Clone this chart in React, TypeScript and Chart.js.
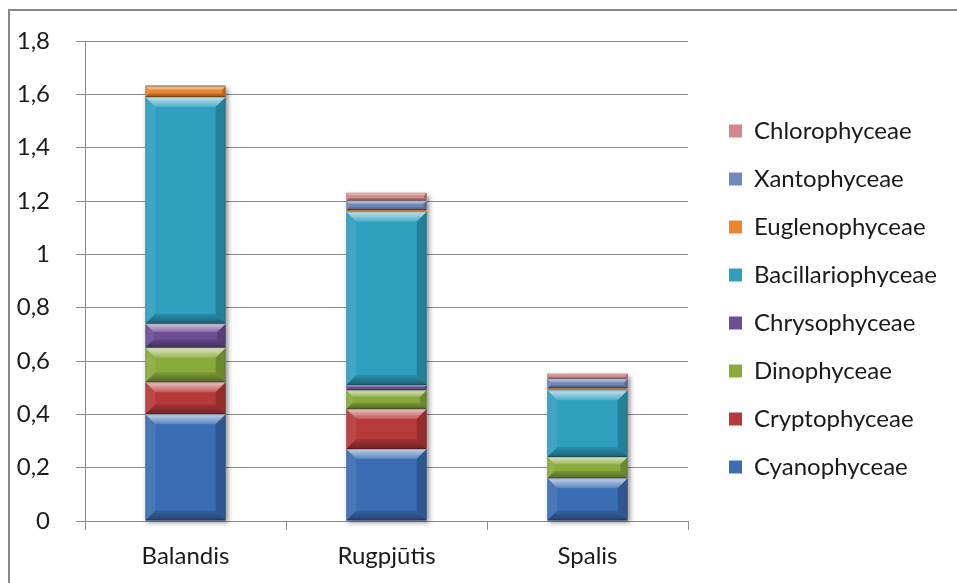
import { useEffect, useRef } from 'react';
import { Chart, registerables } from 'chart.js';

Chart.register(...registerables);

const categories = ['Balandis', 'Rugpjūtis', 'Spalis'];
const cyanophyceae = [0.40, 0.27, 0.16];
const cryptophyceae = [0.12, 0.15, 0];
const dinophyceae = [0.13, 0.07, 0.08];
const chrysophyceae = [0.09, 0.02, 0];
const bacillariophyceae = [0.85, 0.65, 0.25];
const euglenophyceae = [0.04, 0.006, 0.008];
const xantophyceae = [0, 0.035, 0.035];
const chlorophyceae = [0.003, 0.03, 0.02];
const yTickLabels = ['0', '0,2', '0,4', '0,6', '0,8', '1', '1,2', '1,4', '1,6', '1,8'];

const seriesNames = ['Cyanophyceae', 'Cryptophyceae', 'Dinophyceae', 'Chrysophyceae', 'Bacillariophyceae', 'Euglenophyceae', 'Xantophyceae', 'Chlorophyceae'];
const seriesValues = [cyanophyceae, cryptophyceae, dinophyceae, chrysophyceae, bacillariophyceae, euglenophyceae, xantophyceae, chlorophyceae];
const seriesColors = ['#3A6DB3', '#B8393A', '#89AB3C', '#6D4E95', '#2E9FBF', '#E8852D', '#7189BA', '#D58887'];

const FONT = 'Lato, "Liberation Sans", sans-serif';
const FS = 24;
const LEGEND_PAD = 24;

const legendPlacePlugin = {
  id: 'legendPlace',
  beforeLayout(chart: any) {
    const lg = chart.legend;
    if (lg && !lg._patched) {
      const orig = lg.fit.bind(lg);
      lg.fit = function () {
        orig();
        this.width = 957 - 688;
      };
      lg._patched = true;
    }
  },
  afterLayout(chart: any) {
    const lg = chart.legend;
    if (!lg) return;
    lg.left = 729 - LEGEND_PAD;
    lg.right = 957;
    lg.top -= 13;
    lg.bottom -= 13;
  },
};

const bevelPlugin = {
  id: 'bevel',
  beforeDatasetsDraw(chart: any) {
    const ctx = chart.ctx;
    const metas = chart.getSortedVisibleDatasetMetas();
    if (!metas.length) return;
    const n = metas[0].data.length;
    for (let i = 0; i < n; i++) {
      let top = Infinity;
      let bottom = -Infinity;
      let x = 0;
      let w = 0;
      metas.forEach((m: any) => {
        const el = m.data[i];
        if (!el) return;
        const p = el.getProps(['x', 'y', 'base', 'width'], true);
        top = Math.min(top, p.y, p.base);
        bottom = Math.max(bottom, p.y, p.base);
        x = p.x;
        w = p.width;
      });
      ctx.save();
      ctx.shadowColor = 'rgba(0,0,0,0.45)';
      ctx.shadowBlur = 5;
      ctx.shadowOffsetX = 2;
      ctx.shadowOffsetY = 2;
      ctx.fillStyle = '#ffffff';
      ctx.fillRect(x - w / 2, top, w, bottom - top);
      ctx.restore();
    }
  },
  afterDatasetsDraw(chart: any) {
    const ctx = chart.ctx;
    chart.getSortedVisibleDatasetMetas().forEach((m: any) => {
      m.data.forEach((el: any) => {
        const p = el.getProps(['x', 'y', 'base', 'width'], true);
        const l = p.x - p.width / 2;
        const r = p.x + p.width / 2;
        const t = Math.min(p.y, p.base);
        const b = Math.max(p.y, p.base);
        const h = b - t;
        if (h < 0.5) return;
        const s = Math.min(10, h * 0.35, p.width * 0.25);
        ctx.save();
        if (s >= 1) {
          let g = ctx.createLinearGradient(0, t, 0, t + s);
          g.addColorStop(0, 'rgba(255,255,255,0.7)');
          g.addColorStop(1, 'rgba(255,255,255,0.15)');
          ctx.fillStyle = g;
          ctx.beginPath();
          ctx.moveTo(l, t); ctx.lineTo(r, t); ctx.lineTo(r - s, t + s); ctx.lineTo(l + s, t + s); ctx.closePath();
          ctx.fill();
          g = ctx.createLinearGradient(0, b - s, 0, b);
          g.addColorStop(0, 'rgba(0,0,0,0.1)');
          g.addColorStop(1, 'rgba(0,0,0,0.4)');
          ctx.fillStyle = g;
          ctx.beginPath();
          ctx.moveTo(l, b); ctx.lineTo(r, b); ctx.lineTo(r - s, b - s); ctx.lineTo(l + s, b - s); ctx.closePath();
          ctx.fill();
          ctx.fillStyle = 'rgba(255,255,255,0.08)';
          ctx.beginPath();
          ctx.moveTo(l, t); ctx.lineTo(l + s, t + s); ctx.lineTo(l + s, b - s); ctx.lineTo(l, b); ctx.closePath();
          ctx.fill();
          ctx.fillStyle = 'rgba(0,0,0,0.2)';
          ctx.beginPath();
          ctx.moveTo(r, t); ctx.lineTo(r - s, t + s); ctx.lineTo(r - s, b - s); ctx.lineTo(r, b); ctx.closePath();
          ctx.fill();
        }
        ctx.strokeStyle = 'rgba(0,0,0,0.18)';
        ctx.lineWidth = 1;
        ctx.strokeRect(l + 0.5, t + 0.5, p.width - 1, Math.max(0, h - 1));
        ctx.restore();
      });
    });
  },
};

export default function App() {
  const canvasRef = useRef<HTMLCanvasElement | null>(null);

  useEffect(() => {
    if (!canvasRef.current) return;
    const chart = new Chart(canvasRef.current, {
      type: 'bar',
      data: {
        labels: categories,
        datasets: seriesNames.map((name, i) => ({
          label: name,
          data: seriesValues[i],
          backgroundColor: seriesColors[i],
          borderWidth: 0,
          categoryPercentage: 0.8,
          barPercentage: 0.5,
        })),
      },
      options: {
        animation: false,
        responsive: false,
        layout: { padding: { top: 41, right: 0, bottom: 0, left: 0 } },
        plugins: {
          tooltip: { enabled: false },
          legend: {
            position: 'right',
            reverse: true,
            labels: {
              boxWidth: 13,
              boxHeight: 13,
              padding: LEGEND_PAD,
              color: '#1a1a1a',
              font: { family: FONT, size: FS },
            },
          },
        },
        scales: {
          x: {
            stacked: true,
            grid: { display: true, drawOnChartArea: false, drawTicks: true, tickLength: 9, color: '#8c8c8c', offset: true },
            border: { display: true, color: '#8c8c8c' },
            ticks: { color: '#1a1a1a', font: { family: FONT, size: FS }, padding: 12 },
            afterFit: (scale: any) => { scale.height = 62; },
          },
          y: {
            stacked: true,
            min: 0,
            max: 1.8,
            grid: { color: '#8c8c8c', tickLength: 9 },
            border: { display: true, color: '#8c8c8c' },
            ticks: {
              stepSize: 0.2,
              color: '#1a1a1a',
              font: { family: FONT, size: FS },
              padding: 26,
              callback: (_v: any, i: number) => yTickLabels[i],
            },
            afterFit: (scale: any) => { scale.width = 85; },
          },
        },
      },
      plugins: [legendPlacePlugin, bevelPlugin],
    });
    return () => chart.destroy();
  }, []);

  return (
    <div style={{ position: 'absolute', left: 0, top: 0, width: 957, height: 583, overflow: 'hidden', background: '#fff' }}>
      <div style={{ position: 'absolute', left: 8, top: 9, width: 1000, height: 700, borderTop: '2px solid #8a8a8a', borderLeft: '2px solid #8a8a8a', boxSizing: 'border-box' }} />
      <canvas ref={canvasRef} width={957} height={583} style={{ position: 'absolute', left: 0, top: 0 }} />
    </div>
  );
}
